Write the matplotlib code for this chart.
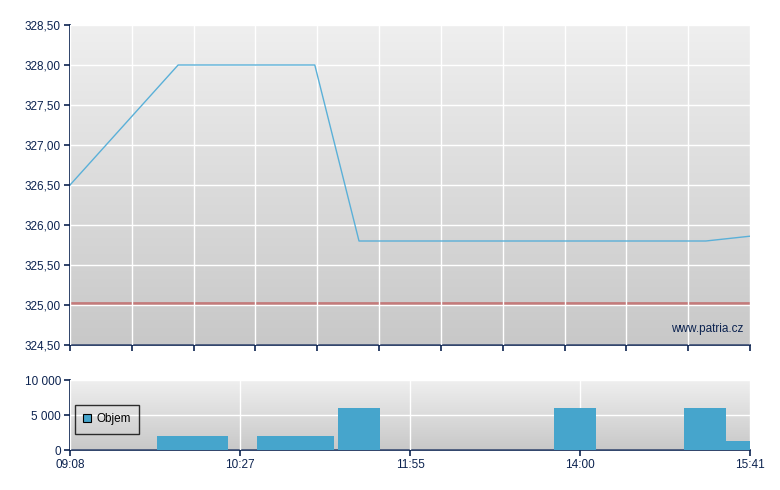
import matplotlib
matplotlib.use("Agg")
import matplotlib.pyplot as plt
import numpy as np
from matplotlib.colors import LinearSegmentedColormap

# ---- data (x = position along the ordinal session axis, 0..100) ----
price_x = [0.0, 15.9, 36.0, 42.5, 93.5, 100.0]
price_y = [326.50, 328.00, 328.00, 325.80, 325.80, 325.86]
ref_price = 325.03

vol_left = [12.8, 27.5, 39.4, 71.2, 90.3, 96.5]
vol_right = [23.2, 38.8, 45.6, 77.4, 96.5, 100.0]
vol_values = [2000, 2000, 6000, 6000, 6000, 1300]

price_ticks = [324.5, 325.0, 325.5, 326.0, 326.5, 327.0, 327.5, 328.0, 328.5]
price_tick_labels = ["324,50", "325,00", "325,50", "326,00", "326,50",
                     "327,00", "327,50", "328,00", "328,50"]
vol_ticks = [0, 5000, 10000]
vol_tick_labels = ["0", "5 000", "10 000"]
time_tick_pos = [0, 25, 50, 75, 100]
time_tick_labels = ["09:08", "10:27", "11:55", "14:00", "15:41"]

navy = "#0c2350"
line_col = "#5ab0d8"
bar_col = "#46a5cc"

plt.rcParams['font.family'] = ['Liberation Sans', 'DejaVu Sans']

fig = plt.figure(figsize=(7.8, 4.9), dpi=100)
ax1 = fig.add_axes([70/780, (490-345)/490, 680/780, 320/490])
ax2 = fig.add_axes([70/780, (490-450)/490, 680/780, 70/490])

grad = np.linspace(0, 1, 256).reshape(-1, 1)
cmap = LinearSegmentedColormap.from_list("bg", ["#efefef", "#c8c8c8"])

def style(ax, ylo, yhi):
    ax.imshow(grad, extent=[0, 100, ylo, yhi], origin='upper', aspect='auto',
              cmap=cmap, zorder=0, interpolation='bilinear')
    ax.set_xlim(0, 100)
    ax.set_ylim(ylo, yhi)
    for s in ["top", "right"]:
        ax.spines[s].set_visible(False)
    for s in ["left", "bottom"]:
        ax.spines[s].set_color(navy)
        ax.spines[s].set_linewidth(1.2)
    ax.tick_params(colors=navy, labelcolor=navy, labelsize=8.5, length=4,
                   width=1.2, direction='out', pad=2.5)
    ax.grid(True, color='white', linewidth=1.0, zorder=1)
    ax.set_axisbelow(False)

style(ax1, 324.5, 328.5)
ax1.set_yticks(price_ticks)
ax1.set_yticklabels(price_tick_labels)
ax1.set_xticks(np.linspace(0, 100, 12))
ax1.set_xticklabels([])
ax1.axhline(ref_price, color="#c06060", linewidth=2, alpha=0.75, zorder=2)
ax1.plot(price_x, price_y, color=line_col, linewidth=1.0, zorder=3)
ax1.text(99, 324.62, "www.patria.cz", ha='right', va='bottom', color=navy,
         fontsize=8.5, zorder=4)

style(ax2, 0, 10000)
ax2.set_yticks(vol_ticks)
ax2.set_yticklabels(vol_tick_labels)
ax2.set_xticks(time_tick_pos)
ax2.set_xticklabels(time_tick_labels)
ax2.bar(vol_left, vol_values, width=np.array(vol_right) - np.array(vol_left),
        align='edge', color=bar_col, zorder=3, label="Objem")
leg = ax2.legend(loc='upper left', bbox_to_anchor=(0.007, 0.64), fontsize=8.5,
                 frameon=True, fancybox=False, edgecolor='black',
                 handlelength=0.7, handleheight=0.7, handletextpad=0.4,
                 borderpad=0.7, borderaxespad=0)
leg.get_frame().set_facecolor('none')
leg.get_frame().set_linewidth(1)
for h in leg.legend_handles:
    h.set_edgecolor('black')
    h.set_linewidth(0.8)

fig.savefig("out.png", dpi=100)
